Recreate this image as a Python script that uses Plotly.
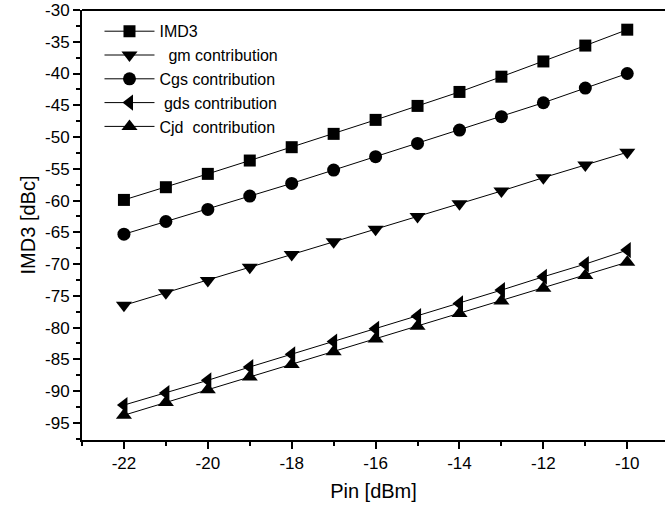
import plotly.graph_objects as go

pin = [-22, -21, -20, -19, -18, -17, -16, -15, -14, -13, -12, -11, -10]
imd3 = [-59.9, -57.9, -55.8, -53.7, -51.6, -49.5, -47.3, -45.1, -42.9, -40.5, -38.1, -35.6, -33.1]
gm = [-76.5, -74.5, -72.6, -70.5, -68.5, -66.5, -64.5, -62.5, -60.5, -58.5, -56.4, -54.4, -52.4]
cgs = [-65.3, -63.3, -61.4, -59.3, -57.3, -55.2, -53.1, -51.0, -48.9, -46.8, -44.6, -42.3, -40.0]
gds = [-92.2, -90.3, -88.3, -86.2, -84.2, -82.2, -80.2, -78.2, -76.2, -74.1, -72.0, -70.0, -67.8]
cjd = [-93.8, -91.8, -89.8, -87.8, -85.8, -83.8, -81.8, -79.8, -77.8, -75.8, -73.8, -71.8, -69.7]

x_ticks = [-22, -20, -18, -16, -14, -12, -10]
x_minor = [-23, -21, -19, -17, -15, -13, -11]
y_ticks = [-95, -90, -85, -80, -75, -70, -65, -60, -55, -50, -45, -40, -35, -30]
y_minor = [-97.5, -92.5, -87.5, -82.5, -77.5, -72.5, -67.5, -62.5, -57.5, -52.5, -47.5, -42.5, -37.5, -32.5]

names = ["IMD3", "\u00a0\u00a0gm contribution", "Cgs contribution", "\u00a0gds contribution", "Cjd\u00a0\u00a0contribution"]
series = [imd3, gm, cgs, gds, cjd]
symbols = ["square", "triangle-down", "circle", "triangle-left", "triangle-up"]
sizes = [12, 14, 13, 14, 14]

fig = go.Figure()
for n, s, sym, sz in zip(names, series, symbols, sizes):
    fig.add_trace(go.Scatter(
        x=pin, y=s, name=n, mode="lines+markers",
        line=dict(color="black", width=1),
        marker=dict(symbol=sym, size=sz, color="black"),
    ))

font = "Liberation Sans, Arial, sans-serif"
fig.update_layout(
    width=665, height=510,
    margin=dict(l=82, r=0, t=10, b=70),
    paper_bgcolor="white", plot_bgcolor="white",
    font=dict(family=font, color="black", size=17),
    showlegend=True,
    legend=dict(x=0.03, y=0.99, xanchor="left", yanchor="top",
                bgcolor="rgba(0,0,0,0)", font=dict(size=16, family=font),
                itemwidth=50, tracegroupgap=0),
    xaxis=dict(
        range=[-23, -9.1], tickmode="array", tickvals=x_ticks,
        ticktext=[str(v) for v in x_ticks],
        ticks="outside", ticklen=7, tickwidth=2, tickcolor="black",
        minor=dict(tickvals=x_minor, ticks="outside", ticklen=4, tickwidth=2, tickcolor="black"),
        showline=True, linecolor="black", linewidth=2, mirror=False,
        showgrid=False, zeroline=False,
        tickfont=dict(size=17),
        title=dict(text="Pin [dBm]", font=dict(size=20), standoff=12),
    ),
    yaxis=dict(
        range=[-97.7, -30], tickmode="array", tickvals=y_ticks,
        ticktext=[str(v) for v in y_ticks],
        ticks="outside", ticklen=7, tickwidth=2, tickcolor="black",
        minor=dict(tickvals=y_minor, ticks="outside", ticklen=4, tickwidth=2, tickcolor="black"),
        showline=True, linecolor="black", linewidth=2,
        showgrid=False, zeroline=False,
        tickfont=dict(size=17),
        title=dict(text="IMD3 [dBc]", font=dict(size=20), standoff=4),
    ),
)
fig.add_shape(type="line", xref="paper", yref="paper", x0=0, x1=1, y0=1, y1=1,
              line=dict(color="black", width=2))

fig.write_html("out.html")
